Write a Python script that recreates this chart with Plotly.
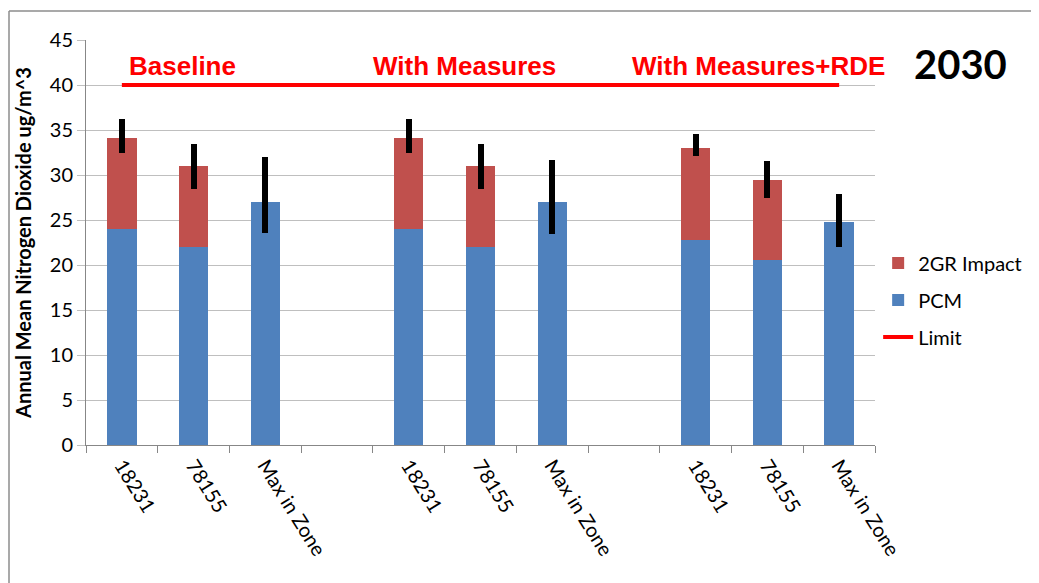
import plotly.graph_objects as go

# ---- data ----
positions = [0, 1, 2, 4, 5, 6, 8, 9, 10]
tick_labels = ["18231", "78155", "Max in Zone",
               "18231", "78155", "Max in Zone",
               "18231", "78155", "Max in Zone"]
pcm = [24.0, 22.0, 27.0, 24.0, 22.0, 27.0, 22.8, 20.6, 24.8]
impact_2gr = [10.1, 9.0, 0.0, 10.1, 9.0, 0.0, 10.2, 8.9, 0.0]
err_plus = [2.1, 2.5, 5.0, 2.1, 2.5, 4.7, 1.6, 2.1, 3.1]
err_minus = [1.6, 2.5, 3.4, 1.7, 2.6, 3.5, 0.9, 2.0, 2.8]
limit_x = [0, 10]
limit_y = [40, 40]
group_names = ["Baseline", "With Measures", "With Measures+RDE"]
group_label_x = [0.84, 4.78, 8.87]
year_label = "2030"

BLUE = "#4F81BD"
RED = "#C0504D"
LIMIT = "#FF0000"
GRID = "#BFBFBF"
AXIS = "#878787"
FONT = "Lato, 'Open Sans', sans-serif"

fig = go.Figure()
fig.add_trace(go.Bar(
    x=positions, y=pcm, name="PCM", marker=dict(color=BLUE, line=dict(width=0)),
    width=0.41, legendrank=2, legendgroup="b", showlegend=True,
))
fig.add_trace(go.Bar(
    x=positions, y=impact_2gr, name="2GR Impact",
    marker=dict(color=RED, line=dict(width=0)), width=0.41,
    error_y=dict(type="data", symmetric=False, array=err_plus,
                 arrayminus=err_minus, color="black", thickness=6, width=0),
    legendrank=1, legendgroup="a",
))
fig.add_trace(go.Scatter(
    x=limit_x, y=limit_y, mode="lines", name="Limit",
    line=dict(color=LIMIT, width=4), legendrank=3, legendgroup="c",
))

annotations = []
for name, gx in zip(group_names, group_label_x):
    annotations.append(dict(
        x=gx, y=42.1, xref="x", yref="y", text=name, showarrow=False,
        font=dict(family="Liberation Sans, Arial, sans-serif", size=26,
                  color=LIMIT, weight="bold"),
        xanchor="center", yanchor="middle",
    ))
annotations.append(dict(
    x=1.108, y=0.941, xref="paper", yref="paper", text="<b>" + year_label + "</b>",
    showarrow=False, font=dict(family=FONT, size=40, color="black"),
    xanchor="center", yanchor="middle",
))

# page body adds an 8px offset; figure coordinates are page coordinates minus 8
OFF = 8
W, H = 1039 - OFF, 583 - OFF
L, T = 86 - OFF, 40 - OFF
pw, ph = 789, 405
R = W - L - pw
B = H - T - ph

def px(xp):
    return (xp - OFF - L) / pw
def py(yp):
    return (H - B - (yp - OFF)) / ph

shapes = [
    dict(type="line", xref="paper", yref="paper", x0=px(9), x1=px(1050),
         y0=py(11), y1=py(11), line=dict(color="#8C8C8C", width=1.5)),
    dict(type="line", xref="paper", yref="paper", x0=px(9), x1=px(9),
         y0=py(11), y1=py(600), line=dict(color="#8C8C8C", width=1.5)),
]

fig.update_layout(
    width=W, height=H,
    margin=dict(l=L, r=R, t=T, b=B, autoexpand=False),
    paper_bgcolor="white", plot_bgcolor="white",
    barmode="stack", bargap=0.59,
    font=dict(family=FONT, size=20, color="black"),
    legend=dict(x=1.004, y=0.358, xanchor="left", yanchor="middle",
                traceorder="grouped", tracegroupgap=8,
                font=dict(family=FONT, size=20, color="black"),
                bgcolor="rgba(0,0,0,0)"),
    annotations=annotations,
    shapes=shapes,
)
fig.update_xaxes(
    range=[-0.5, 10.5], tickmode="array", tickvals=positions, ticktext=tick_labels,
    tickangle=58, ticks="", showgrid=False, showline=True, linecolor=AXIS,
    linewidth=1, zeroline=False, automargin=False,
    tickfont=dict(family=FONT, size=20, color="black"),
    minor=dict(tickmode="array", tickvals=[i - 0.5 for i in range(12)],
               ticks="outside", ticklen=7, tickcolor=AXIS, showgrid=False),
)
fig.update_yaxes(
    range=[0, 45], dtick=5, tick0=0, showgrid=True, gridcolor=GRID, gridwidth=1,
    showline=True, linecolor=AXIS, linewidth=1, ticks="outside", ticklen=8,
    tickcolor=GRID, zeroline=False, automargin=False,
    tickfont=dict(family=FONT, size=20, color="black"),
    title=dict(text="<b>Annual Mean Nitrogen Dioxide ug/m^3</b>",
               font=dict(family=FONT, size=20, color="black"), standoff=12),
)

fig.write_html("out.html")
